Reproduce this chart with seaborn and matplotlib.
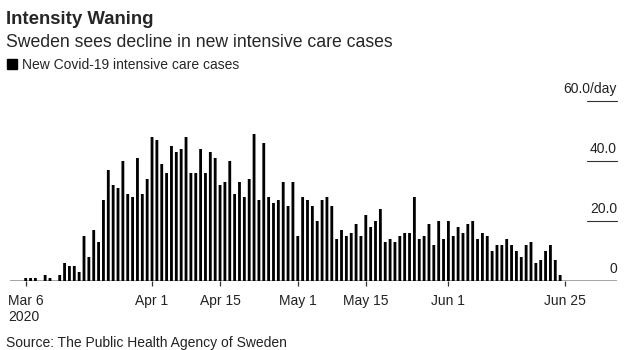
import numpy as np
import pandas as pd
import matplotlib
matplotlib.use("Agg")
import matplotlib.pyplot as plt
import matplotlib.transforms as mtransforms
from matplotlib.patches import Rectangle
import seaborn as sns

# daily new ICU cases, Mar 6 - Jun 25 2020
mar06_apr01 = [1, 1, 1, 0, 2, 1, 0, 2, 6, 5, 5, 3, 15, 8, 17, 13, 27, 37, 32, 31,
               40, 29, 28, 41, 29, 34, 48]
apr02_apr29 = [47, 39, 36, 45, 43, 44, 48, 36, 36, 44, 36, 43, 41, 32, 33, 40, 29,
               33, 28, 34, 49, 27, 46, 28, 26, 27, 33, 25]
apr30_may27 = [33, 15, 28, 27, 25, 20, 27, 28, 25, 14, 17, 15, 16, 19, 15, 22, 18,
               20, 24, 13, 14, 13, 15, 16, 16, 28, 14, 15]
may28_jun25 = [19, 12, 20, 14, 20, 15, 18, 16, 19, 20, 14, 16, 15, 10, 12, 12, 14,
               12, 10, 8, 12, 13, 6, 7, 10, 12, 7, 2, 0]

cases = mar06_apr01 + apr02_apr29 + apr30_may27 + may28_jun25
dates = pd.date_range("2020-03-06", periods=len(cases), freq="D")

tick_dates = ["2020-03-06", "2020-04-01", "2020-04-15", "2020-05-01",
              "2020-05-15", "2020-06-01", "2020-06-25"]
tick_labels = ["Mar 6\n2020", "Apr 1", "Apr 15", "May 1", "May 15", "Jun 1", "Jun 25"]
ytick_vals = [0, 20, 40, 60]
ytick_labels = ["0", "20.0", "40.0", "60.0/day"]

df = pd.DataFrame({"day": (dates - dates[0]).days, "cases": cases})

sns.set_style("white")
plt.rcParams["font.family"] = ["Liberation Sans", "DejaVu Sans"]

W, H = 635, 350
fig = plt.figure(figsize=(W / 100, H / 100), dpi=100)

# axes box in pixels: left 10, right 617, baseline y=281, 60 at y=101
ax = fig.add_axes([10 / W, (H - 281) / H, 607 / W, 180 / H])

sns.barplot(data=df, x="day", y="cases", native_scale=True, color="black",
            saturation=1, width=0.58, errorbar=None, ax=ax, zorder=2,
            linewidth=0)
# no pixel snapping, so the bars stay evenly spaced
for p in ax.patches:
    p.set_snap(False)

px_per_day = (565 - 25.7) / 111
ax.set_xlim((10 - 25.7) / px_per_day, (617 - 25.7) / px_per_day)
ax.set_ylim(0, 60)

for s in ax.spines.values():
    s.set_visible(False)
ax.axhline(0, color="#8c8c8c", lw=1.1, zorder=1)

tick_pos = [(pd.Timestamp(d) - dates[0]).days for d in tick_dates]
ax.set_xticks(tick_pos)
ax.set_xticklabels(tick_labels, fontsize=10, color="#222222")
ax.tick_params(axis="x", length=3.5, width=0.9, color="#333333", pad=6,
               direction="out", bottom=True)
ax.get_xticklabels()[0].set_multialignment("left")
ax.set_yticks([])
ax.set_xlabel("")
ax.set_ylabel("")

# y labels sit above short rules at the right edge
trans = mtransforms.blended_transform_factory(ax.transAxes, ax.transData)
seg_left = (586.7 - 10) / 607
for v, lab in zip(ytick_vals, ytick_labels):
    ax.annotate(lab, xy=(1, v), xycoords=trans, xytext=(0, 6),
                textcoords="offset points", ha="right", va="baseline",
                fontsize=10, color="#222222")
    if v > 0:
        ax.plot([seg_left, 1], [v, v], transform=trans, color="#333333",
                lw=0.8, clip_on=False)

# header
fig.text(6 / W, 1 - 24 / H, "Intensity Waning", fontsize=13.4, weight="bold",
         va="baseline", ha="left")
fig.text(6 / W, 1 - 46.7 / H, "Sweden sees decline in new intensive care cases",
         fontsize=12.7, va="baseline", ha="left")
fig.patches.append(Rectangle((7.3 / W, 1 - 68.7 / H), 9.4 / W, 9.4 / H,
                             transform=fig.transFigure, color="black"))
fig.text(22.5 / W, 1 - 69 / H, "New Covid-19 intensive care cases",
         fontsize=10, va="baseline", ha="left")
fig.text(6 / W, 1 - 346.5 / H, "Source: The Public Health Agency of Sweden",
         fontsize=10, va="baseline", ha="left", color="#222222")

fig.savefig("out.png", dpi=100)
